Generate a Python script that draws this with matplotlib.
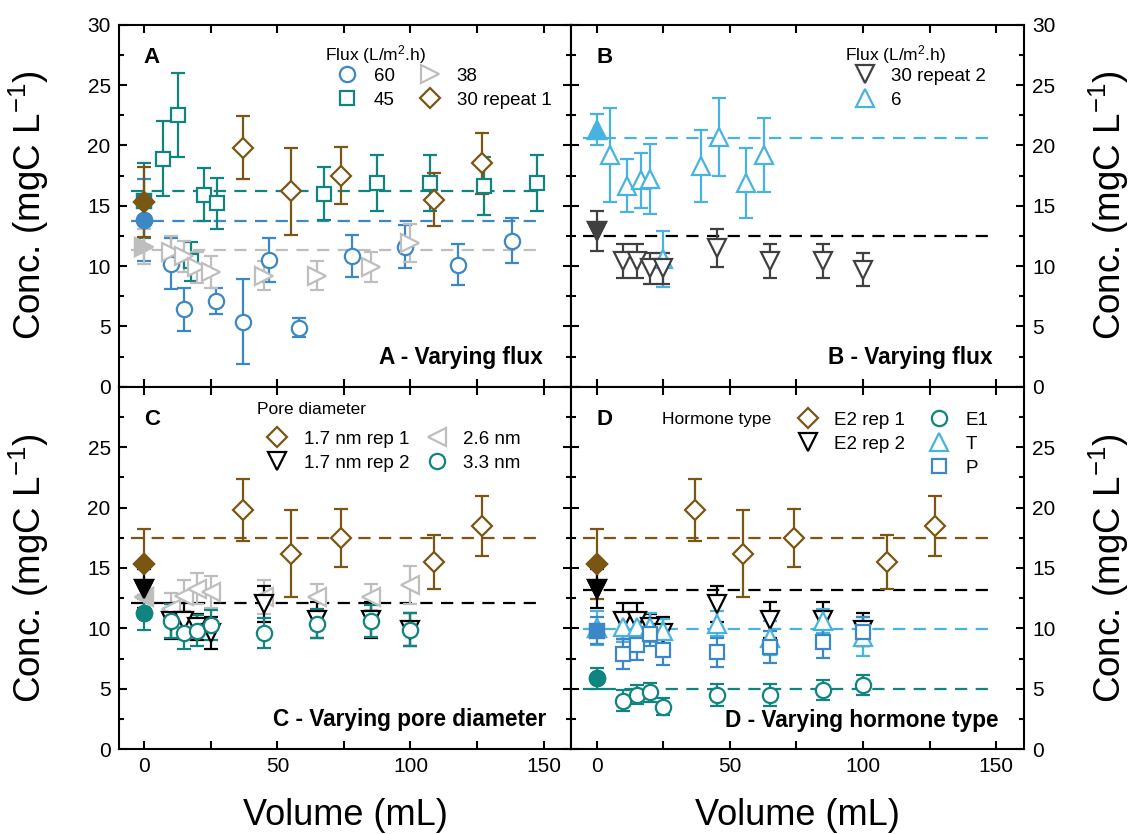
import matplotlib
matplotlib.use('Agg')
import matplotlib.pyplot as plt
from matplotlib.lines import Line2D
from matplotlib.ticker import FixedLocator, MultipleLocator

plt.rcParams['font.family'] = ['Liberation Sans', 'DejaVu Sans']
plt.rcParams['mathtext.default'] = 'regular'

# Цвета серий
brown = '#7b5613'
teal = '#10847e'
blue = '#3c88c6'
grey = '#bebebe'
dgrey = '#404040'
lblue = '#48b3e0'
black = '#000000'

# Общая сетка объёмов (мл)
vol = [0, 10, 15, 20, 25, 45, 65, 85, 100]

# A: поток 60, 45, 38 и 30 (повтор 1)
x_60 = [0, 10, 15, 27, 37, 47, 58, 78, 98, 118, 138]
y_60 = [13.8, 10.2, 6.4, 7.1, 5.4, 10.5, 4.9, 10.85, 11.6, 10.1, 12.1]
e_60 = [3.4, 2.1, 1.8, 1.05, 3.5, 1.8, 0.8, 1.75, 1.8, 1.7, 1.85]

x_45 = [0, 7, 12.5, 17.5, 22.5, 27.5, 67.5, 87.5, 107.5, 127.5, 147.5]
y_45 = [15.4, 18.9, 22.5, 10.4, 15.9, 15.2, 16.0, 16.9, 16.9, 16.6, 16.9]
e_45 = [3.1, 3.1, 3.5, 1.6, 2.2, 2.1, 2.2, 2.3, 2.3, 2.4, 2.3]

y_38 = [11.6, 11.2, 10.8, 9.9, 9.5, 9.2, 9.2, 9.9, 11.9]
e_38 = [1.45, 1.3, 1.3, 1.3, 1.3, 1.2, 1.2, 1.25, 1.55]

# 30 повтор 1 = 1.7 нм повтор 1 = E2 повтор 1
x_rep1 = [0, 37, 55, 74, 109, 127]
y_rep1 = [15.3, 19.8, 16.2, 17.5, 15.5, 18.5]
e_rep1 = [2.9, 2.6, 3.6, 2.4, 2.2, 2.5]

# B: поток 30 (повтор 2) и 6
y_30r2 = [12.9, 10.4, 10.4, 9.8, 9.8, 11.5, 10.4, 10.4, 9.7]
e_30r2 = [1.65, 1.4, 1.4, 1.25, 1.3, 1.55, 1.4, 1.4, 1.35]

x_6 = [0, 5, 11.5, 16.5, 20, 25, 39, 46, 56, 63]
y_6 = [21.3, 19.2, 16.65, 17.1, 17.2, 10.6, 18.3, 20.7, 16.9, 19.2]
e_6 = [1.3, 3.9, 2.2, 2.3, 2.9, 2.3, 3.0, 3.25, 2.9, 3.1]

# C: диаметр пор
y_rep2 = [13.3, 10.6, 10.6, 10.1, 9.6, 12.0, 10.7, 10.7, 9.9]
e_rep2 = [1.6, 1.5, 1.5, 1.1, 1.3, 1.5, 1.5, 1.5, 1.4]

y_26 = [12.6, 11.6, 12.7, 13.3, 13.0, 12.6, 12.6, 12.6, 13.6]
e_26 = [1.0, 1.3, 1.3, 1.3, 1.3, 1.4, 1.1, 1.1, 1.6]

y_33 = [11.3, 10.6, 9.6, 9.8, 10.3, 9.6, 10.4, 10.6, 9.9]
e_33 = [1.45, 1.4, 1.3, 1.3, 1.25, 1.25, 1.2, 1.35, 1.35]

# D: тип гормона
y_e1 = [5.85, 4.0, 4.5, 4.7, 3.5, 4.5, 4.5, 4.9, 5.3]
e_e1 = [0.9, 0.85, 0.8, 0.8, 0.7, 0.9, 0.9, 0.8, 0.85]

y_t = [10.0, 10.1, 10.1, 10.1, 9.8, 10.4, 9.2, 10.6, 9.3]
e_t = [1.4, 1.2, 1.2, 1.2, 1.0, 1.0, 1.4, 1.0, 1.6]

y_p = [9.8, 7.9, 8.6, 9.5, 8.2, 8.0, 8.45, 8.9, 9.7]
e_p = [1.1, 1.25, 1.25, 1.0, 1.25, 1.2, 1.3, 1.35, 1.2]

# Средние уровни (пунктир)
mean_a = {'45': 16.2, '60': 13.75, '38': 11.3}
mean_b = {'6': 20.6, '30r2': 12.5}
mean_c = {'rep1': 17.5, 'rep2': 12.1}
mean_d = {'rep1': 17.5, 'rep2': 13.2, 't': 9.95, 'e1': 5.0}

# Размеры маркеров
MS = {'o': 11, 's': 9.5, 'D': 10.5, '^': 13, 'v': 13, '>': 12.5, '<': 12.5}


def series(ax, x, y, e, color, marker):
    # полые маркеры с планками погрешностей, первая точка закрашена
    ax.errorbar(x, y, yerr=e, fmt=marker, color=color, mfc='white', mec=color,
                ms=MS[marker], mew=1.6, elinewidth=1.6, capsize=5, capthick=1.6)
    ax.plot(x[:1], y[:1], marker, color=color, mfc=color, mec=color,
            ms=MS[marker], mew=1.6, zorder=3)


def hline(ax, y, color):
    ax.plot([-5, 148], [y, y], color=color, lw=1.6, dashes=(5.5, 3.8))


def handle(marker, color, label):
    return Line2D([], [], linestyle='none', marker=marker, ms=MS[marker],
                  mfc='white', mec=color, mew=1.6, label=label)


def style(ax, bottom_row, right_col):
    ax.set_xlim(-9.5, 160.5)
    ax.set_ylim(0, 30)
    ax.xaxis.set_major_locator(FixedLocator([0, 25, 50, 75, 100, 125, 150]))
    ax.set_xticklabels(['0', '', '50', '', '100', '', '150'])
    ax.yaxis.set_major_locator(MultipleLocator(5))
    ax.yaxis.set_minor_locator(MultipleLocator(2.5))
    if bottom_row:
        ax.set_yticks([0, 5, 10, 15, 20, 25, 30])
        ax.set_yticklabels(['0', '5', '10', '15', '20', '25', ''])
    ax.tick_params(which='both', direction='in', top=True, right=True,
                   labelsize=15, width=1.5)
    ax.tick_params(which='major', length=6, pad=6)
    ax.tick_params(which='minor', length=3.5)
    if not bottom_row:
        ax.tick_params(labelbottom=False)
    if right_col:
        ax.tick_params(labelleft=False, labelright=True)
        ax.yaxis.set_label_position('right')
    for s in ax.spines.values():
        s.set_linewidth(1.5)
    ax.set_ylabel('Conc. (mgC L$^{-1}$)', fontsize=26.5)
    if right_col:
        ax.yaxis.set_label_coords(1.139, 0.5)
    else:
        ax.yaxis.set_label_coords(-0.15, 0.5)
    if bottom_row:
        ax.set_xlabel('Volume (mL)', fontsize=26)
        ax.xaxis.set_label_coords(0.5, -0.135)


def title(ax, text, x, y):
    ax.text(x, y, text, transform=ax.transAxes, fontsize=12.5,
            ha='left', va='center')


def panel_tag(ax, letter, caption, cx, cy):
    ax.text(0.073, 0.91, letter, transform=ax.transAxes, fontsize=16,
            fontweight='bold', ha='center', va='center')
    ax.text(cx, cy, caption, transform=ax.transAxes, fontsize=16.3,
            fontweight='bold', ha='right', va='center')


fig = plt.figure(figsize=(11.33, 8.34), dpi=100)
W, H = 0.3994, 0.4341
axA = fig.add_axes([0.1050, 0.5363, W, H])
axB = fig.add_axes([0.5044, 0.5363, W, H])
axC = fig.add_axes([0.1050, 0.1019, W, H])
axD = fig.add_axes([0.5044, 0.1019, W, H])

style(axA, False, False)
style(axB, False, True)
style(axC, True, False)
style(axD, True, True)

leg_kw = dict(frameon=False, borderpad=0, borderaxespad=0, handlelength=1.2,
              handletextpad=0.8, labelspacing=0.37, fontsize=13.5,
              loc='upper left')

# --- A ---
hline(axA, mean_a['45'], teal)
hline(axA, mean_a['60'], blue)
hline(axA, mean_a['38'], grey)
series(axA, x_60, y_60, e_60, blue, 'o')
series(axA, x_45, y_45, e_45, teal, 's')
series(axA, vol, y_38, e_38, grey, '>')
series(axA, x_rep1, y_rep1, e_rep1, brown, 'D')
axA.legend(handles=[handle('o', blue, '60'), handle('s', teal, '45'),
                    handle('>', grey, '38'), handle('D', brown, '30 repeat 1')],
           ncol=2, columnspacing=1.3, bbox_to_anchor=(0.48, 0.882), **leg_kw)
title(axA, 'Flux (L/m$^2$.h)', 0.455, 0.918)
panel_tag(axA, 'A', 'A - Varying flux', 0.937, 0.08)

# --- B ---
hline(axB, mean_b['6'], lblue)
hline(axB, mean_b['30r2'], black)
series(axB, x_6, y_6, e_6, lblue, '^')
series(axB, vol, y_30r2, e_30r2, dgrey, 'v')
axB.legend(handles=[handle('v', dgrey, '30 repeat 2'), handle('^', lblue, '6')],
           ncol=1, bbox_to_anchor=(0.624, 0.882), **leg_kw)
title(axB, 'Flux (L/m$^2$.h)', 0.604, 0.918)
panel_tag(axB, 'B', 'B - Varying flux', 0.931, 0.082)

# --- C ---
hline(axC, mean_c['rep1'], brown)
hline(axC, mean_c['rep2'], black)
series(axC, x_rep1, y_rep1, e_rep1, brown, 'D')
series(axC, vol, y_26, e_26, grey, '<')
series(axC, vol, y_rep2, e_rep2, black, 'v')
series(axC, vol, y_33, e_33, teal, 'o')
axC.legend(handles=[handle('D', brown, '1.7 nm rep 1'), handle('v', black, '1.7 nm rep 2'),
                    handle('<', grey, '2.6 nm'), handle('o', teal, '3.3 nm')],
           ncol=2, columnspacing=0.9, bbox_to_anchor=(0.325, 0.879), **leg_kw)
title(axC, 'Pore diameter', 0.305, 0.939)
panel_tag(axC, 'C', 'C - Varying pore diameter', 0.945, 0.082)

# --- D ---
hline(axD, mean_d['rep1'], brown)
hline(axD, mean_d['rep2'], black)
hline(axD, mean_d['t'], lblue)
hline(axD, mean_d['e1'], teal)
series(axD, x_rep1, y_rep1, e_rep1, brown, 'D')
series(axD, vol, y_rep2, e_rep2, black, 'v')
series(axD, vol, y_e1, e_e1, teal, 'o')
series(axD, vol, y_t, e_t, lblue, '^')
series(axD, vol, y_p, e_p, blue, 's')
blank = Line2D([], [], linestyle='none', label=' ')
axD.legend(handles=[handle('D', brown, 'E2 rep 1'), handle('v', black, 'E2 rep 2'), blank,
                    handle('o', teal, 'E1'), handle('^', lblue, 'T'), handle('s', blue, 'P')],
           ncol=2, columnspacing=1.2, bbox_to_anchor=(0.498, 0.932), **leg_kw)
title(axD, 'Hormone type', 0.2, 0.91)
panel_tag(axD, 'D', 'D - Varying hormone type', 0.943, 0.08)

fig.savefig('out.png', dpi=100)
